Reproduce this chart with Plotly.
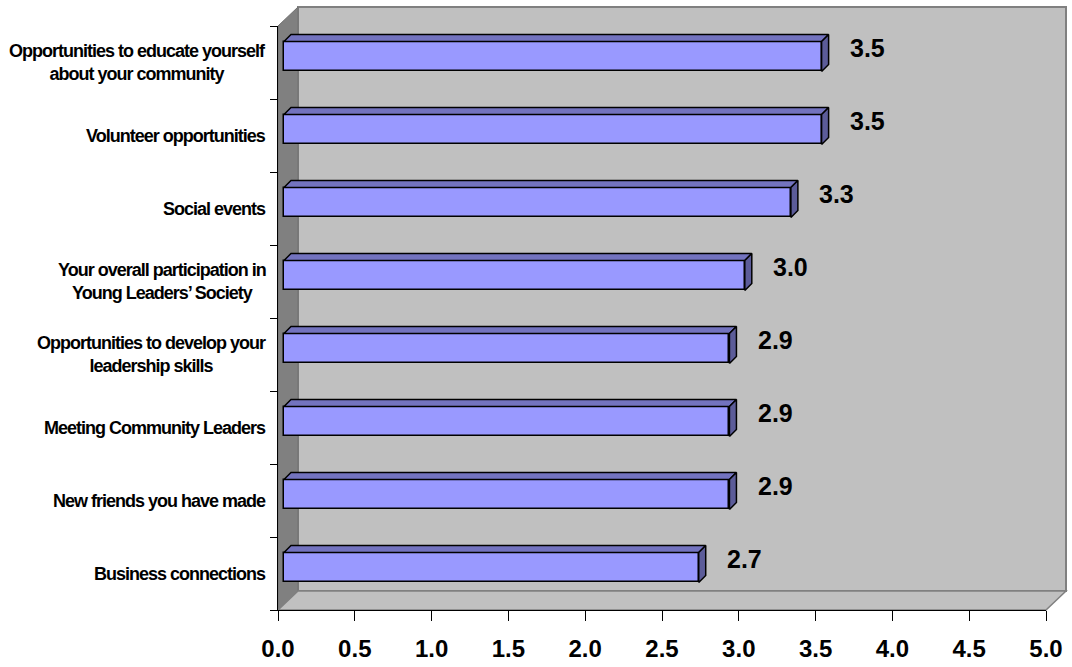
import plotly.graph_objects as go

# ---- data ----
categories = [
    "Opportunities to educate yourself<br>about your community",
    "Volunteer opportunities",
    "Social events",
    "Your overall participation in<br>Young Leaders’ Society",
    "Opportunities to develop your<br>leadership skills",
    "Meeting Community Leaders",
    "New friends you have made",
    "Business connections",
]
values = [3.5, 3.5, 3.3, 3.0, 2.9, 2.9, 2.9, 2.7]
x_ticks = [0.0, 0.5, 1.0, 1.5, 2.0, 2.5, 3.0, 3.5, 4.0, 4.5, 5.0]

# ---- layout geometry (pixels) ----
W, H = 1072, 667
PL, PR, PT, PB = 278, 1046, 26, 610          # front plane of the 3D box
S_X = (PR - PL) / 5.0                         # px per x unit
S_Y = (PB - PT) / 8.0                         # px per category
WALL_DX, WALL_DY = 20, 19                     # box depth in px
BAR_OFF = 6                                    # bar front face depth offset px
BAR_DEPTH = 7                                  # bar depth px
BAR_W = 0.41                                   # bar thickness in category units

n = len(categories)
ypos = [n - 1 - k for k in range(n)]

dxp = WALL_DX / (PR - PL)
dyp = WALL_DY / (PB - PT)

ox = BAR_OFF / S_X
oy = BAR_OFF / S_Y
ddx = BAR_DEPTH / S_X
ddy = BAR_DEPTH / S_Y

fig = go.Figure()

fig.add_trace(go.Bar(
    x=values, y=[p + oy for p in ypos], base=ox, orientation="h",
    width=BAR_W, marker=dict(color="#9999FF", line=dict(color="black", width=1.5)),
    hoverinfo="skip", showlegend=False,
))

top_x, top_y, side_x, side_y = [], [], [], []
for v, p in zip(values, ypos):
    yb = p + oy - BAR_W / 2
    yt = p + oy + BAR_W / 2
    x0 = ox
    x1 = ox + v
    top_x += [x0, x1, x1 + ddx, x0 + ddx, x0, None]
    top_y += [yt, yt, yt + ddy, yt + ddy, yt, None]
    side_x += [x1, x1, x1 + ddx, x1 + ddx, x1, None]
    side_y += [yb, yt, yt + ddy, yb + ddy, yb, None]

fig.add_trace(go.Scatter(x=top_x, y=top_y, mode="lines", fill="toself",
                         fillcolor="#7373BF", line=dict(color="black", width=1.5),
                         hoverinfo="skip", showlegend=False))
fig.add_trace(go.Scatter(x=side_x, y=side_y, mode="lines", fill="toself",
                         fillcolor="#5C5C99", line=dict(color="black", width=1.5),
                         hoverinfo="skip", showlegend=False))

shapes = [
    dict(type="rect", xref="paper", yref="paper", x0=dxp, x1=1 + dxp, y0=dyp, y1=1 + dyp,
         fillcolor="#C0C0C0", line=dict(color="#808080", width=2), layer="below"),
    dict(type="path", xref="paper", yref="paper",
         path=f"M 0,0 L 0,1 L {dxp},{1 + dyp} L {dxp},{dyp} Z",
         fillcolor="#808080", line=dict(color="#707070", width=1), layer="below"),
    dict(type="path", xref="paper", yref="paper",
         path=f"M 0,0 L 1,0 L {1 + dxp},{dyp} L {dxp},{dyp} Z",
         fillcolor="#C0C0C0", line=dict(color="#808080", width=1.5), layer="below"),
]

annotations = []
for c, p in zip(categories, ypos):
    txt = "<br>".join(f'<span style="letter-spacing:-1px">{line}</span>' for line in c.split("<br>"))
    annotations.append(dict(
        x=0, y=p, xref="x", yref="y", text=txt, showarrow=False,
        xanchor="right", yanchor="middle", align="center", xshift=-10,
        font=dict(family="Liberation Sans, Arial", size=18, color="black", weight="bold"),
    ))
for v, p in zip(values, ypos):
    annotations.append(dict(
        x=v + 0.21, y=p + 0.2, xref="x", yref="y", text=f"{v:.1f}", showarrow=False,
        xanchor="left", yanchor="middle",
        font=dict(family="Liberation Sans, Arial", size=25, color="black", weight="bold"),
    ))

fig.update_layout(
    width=W, height=H,
    margin=dict(l=PL, r=W - PR, t=PT, b=H - PB, pad=0, autoexpand=False),
    paper_bgcolor="white", plot_bgcolor="rgba(0,0,0,0)",
    shapes=shapes, annotations=annotations,
    xaxis=dict(range=[0, 5], tickvals=x_ticks, ticktext=[f"{t:.1f}" for t in x_ticks],
               showgrid=False, zeroline=False, showline=True, linecolor="black", linewidth=1,
               ticks="outside", ticklen=10, tickcolor="black", tickwidth=1,
               ticklabelstandoff=7, automargin=False,
               tickfont=dict(family="Liberation Sans, Arial", size=24, color="black", weight="bold"),
               fixedrange=True),
    yaxis=dict(range=[-0.5, n - 0.5], tickvals=[k - 0.5 for k in range(n + 1)],
               showticklabels=False, showgrid=False, zeroline=False, automargin=False,
               showline=True, linecolor="black", linewidth=1,
               ticks="outside", ticklen=7, tickcolor="black", tickwidth=1, fixedrange=True),
    bargap=0,
)

fig.write_html("out.html")
